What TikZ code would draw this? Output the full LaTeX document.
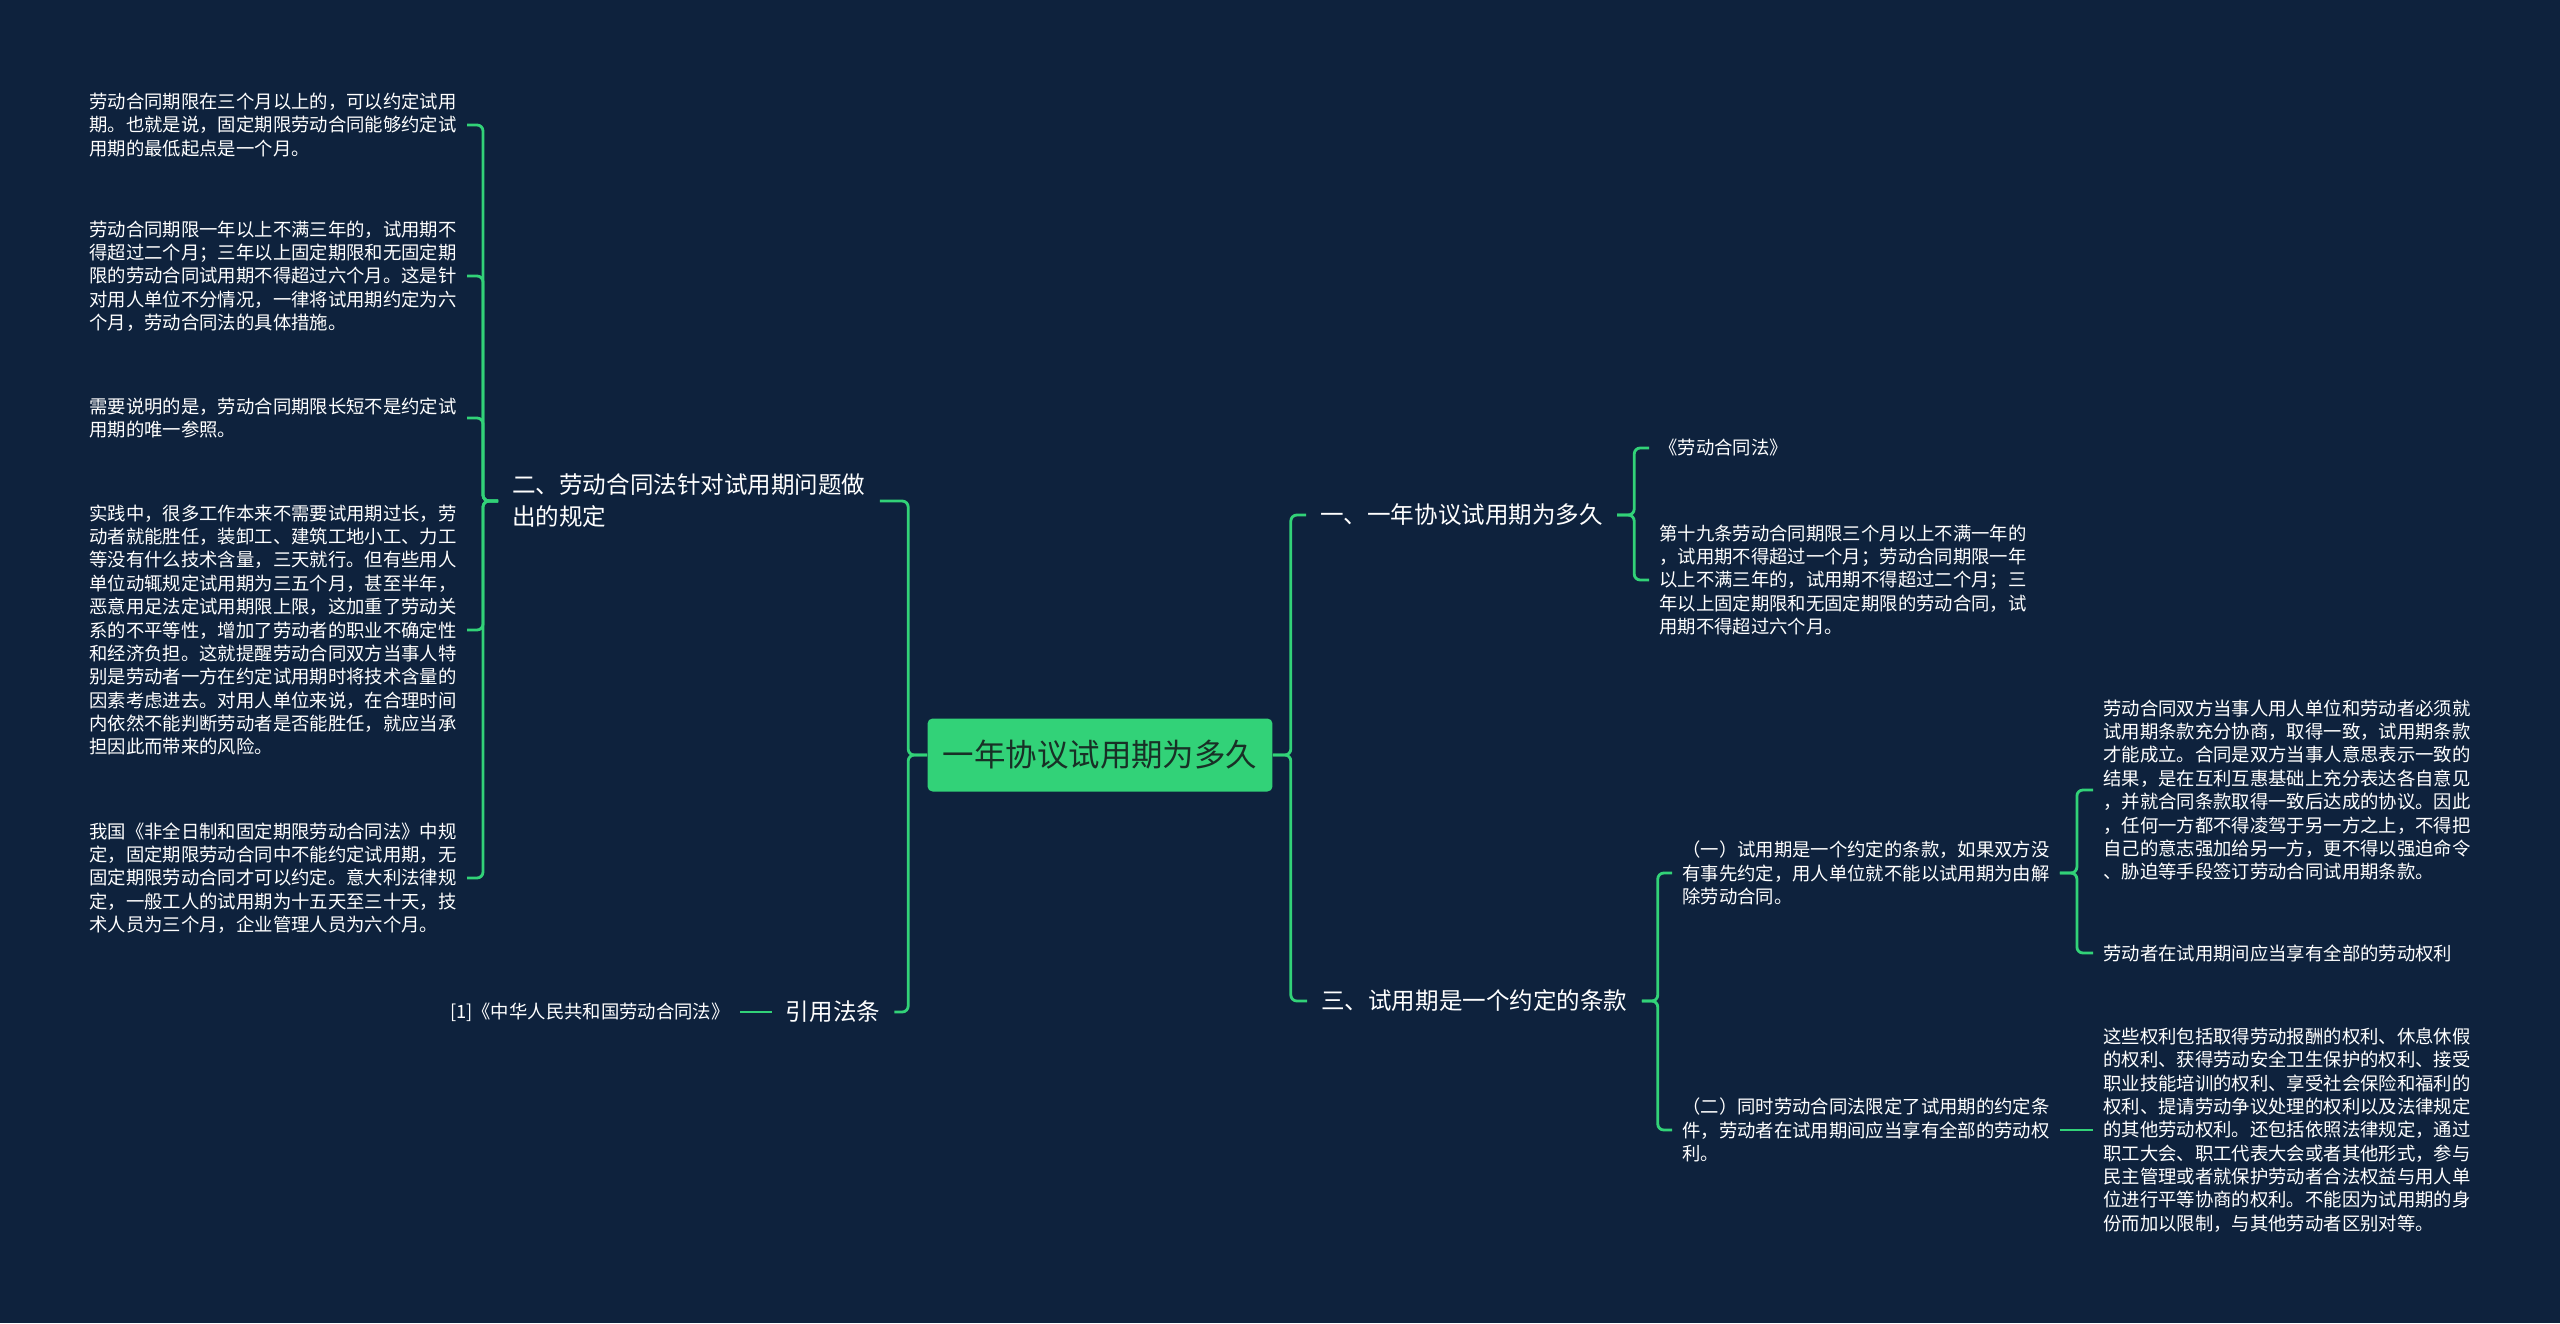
\documentclass[tikz,border=0pt]{standalone}
\usepackage{fontspec}
\setmainfont{Noto Sans CJK SC}
\usepackage{xcolor}
\definecolor{mapnavy}{RGB}{14, 34, 61}
\definecolor{mapgreen}{RGB}{50, 210, 120}
\definecolor{mapdark}{RGB}{24, 48, 38}

\begin{document}
\begin{tikzpicture}[
    x=0.02cm, y=-0.02cm,
    root/.style={rectangle, rounded corners=0.1cm, fill=mapgreen, text=mapdark, minimum width=6.9cm, minimum height=1.46cm, font=\fontsize{17.9}{22}\selectfont},
    branch/.style={text=white, align=left, inner xsep=0.28cm, font=\fontsize{13.4}{18.2}\selectfont},
    leaf/.style={text=white, align=left, inner xsep=0.2cm, font=\fontsize{10.45}{13.3}\selectfont},
    link/.style={draw=mapgreen, line width=1.6pt, rounded corners=0.12cm}
]

% === Fondo ===
\fill[mapnavy] (0,0) rectangle (2560,1323);
\useasboundingbox (0,0) rectangle (2560,1323);

% === Tema central ===
\node[root] (root) at (1100,755) {一年协议试用期为多久};

% === Ramas ===
\node[branch, anchor=west] (b2) at (498,501) {二、劳动合同法针对试用期问题做\\出的规定};
\node[branch] (cite) at (833,1012) {引用法条};
\node[branch, anchor=west] (b1) at (1306,515) {一、一年协议试用期为多久};
\node[branch, anchor=west] (b3) at (1307,1001) {三、试用期是一个约定的条款};

% === Hojas: lado izquierdo ===
\node[leaf, anchor=east] (l1) at (467,125) {劳动合同期限在三个月以上的，可以约定试用\\期。也就是说，固定期限劳动合同能够约定试\\用期的最低起点是一个月。};
\node[leaf, anchor=east] (l2) at (467,276) {劳动合同期限一年以上不满三年的，试用期不\\得超过二个月；三年以上固定期限和无固定期\\限的劳动合同试用期不得超过六个月。这是针\\对用人单位不分情况，一律将试用期约定为六\\个月，劳动合同法的具体措施。};
\node[leaf, anchor=east] (l3) at (467,418) {需要说明的是，劳动合同期限长短不是约定试\\用期的唯一参照。};
\node[leaf, anchor=east] (l4) at (467,630) {实践中，很多工作本来不需要试用期过长，劳\\动者就能胜任，装卸工、建筑工地小工、力工\\等没有什么技术含量，三天就行。但有些用人\\单位动辄规定试用期为三五个月，甚至半年，\\恶意用足法定试用期限上限，这加重了劳动关\\系的不平等性，增加了劳动者的职业不确定性\\和经济负担。这就提醒劳动合同双方当事人特\\别是劳动者一方在约定试用期时将技术含量的\\因素考虑进去。对用人单位来说，在合理时间\\内依然不能判断劳动者是否能胜任，就应当承\\担因此而带来的风险。};
\node[leaf, anchor=east] (l5) at (467,878) {我国《非全日制和固定期限劳动合同法》中规\\定，固定期限劳动合同中不能约定试用期，无\\固定期限劳动合同才可以约定。意大利法律规\\定，一般工人的试用期为十五天至三十天，技\\术人员为三个月，企业管理人员为六个月。};
\node[leaf, anchor=east] (ref) at (740,1012) {[1]《中华人民共和国劳动合同法》};

% === Hojas: lado derecho ===
\node[leaf, anchor=west] (r1) at (1649,448) {《劳动合同法》};
\node[leaf, anchor=west] (r2) at (1649,580) {第十九条劳动合同期限三个月以上不满一年的\\，试用期不得超过一个月；劳动合同期限一年\\以上不满三年的，试用期不得超过二个月；三\\年以上固定期限和无固定期限的劳动合同，试\\用期不得超过六个月。};
\node[leaf, anchor=west] (s1) at (1672,873) {（一）试用期是一个约定的条款，如果双方没\\有事先约定，用人单位就不能以试用期为由解\\除劳动合同。};
\node[leaf, anchor=west] (s2) at (1672,1130) {（二）同时劳动合同法限定了试用期的约定条\\件，劳动者在试用期间应当享有全部的劳动权\\利。};
\node[leaf, anchor=west] (g1) at (2093,790) {劳动合同双方当事人用人单位和劳动者必须就\\试用期条款充分协商，取得一致，试用期条款\\才能成立。合同是双方当事人意思表示一致的\\结果，是在互利互惠基础上充分表达各自意见\\，并就合同条款取得一致后达成的协议。因此\\，任何一方都不得凌驾于另一方之上，不得把\\自己的意志强加给另一方，更不得以强迫命令\\、胁迫等手段签订劳动合同试用期条款。};
\node[leaf, anchor=west] (g2) at (2093,953) {劳动者在试用期间应当享有全部的劳动权利};
\node[leaf, anchor=west] (g3) at (2093,1130) {这些权利包括取得劳动报酬的权利、休息休假\\的权利、获得劳动安全卫生保护的权利、接受\\职业技能培训的权利、享受社会保险和福利的\\权利、提请劳动争议处理的权利以及法律规定\\的其他劳动权利。还包括依照法律规定，通过\\职工大会、职工代表大会或者其他形式，参与\\民主管理或者就保护劳动者合法权益与用人单\\位进行平等协商的权利。不能因为试用期的身\\份而加以限制，与其他劳动者区别对等。};

% === Conectores ===
\draw[link] (root.west) -- ++(-19,0) |- (b2.east);
\draw[link] (root.west) -- ++(-19,0) |- (cite.east);
\draw[link] (root.east) -- ++(18,0) |- (b1.west);
\draw[link] (root.east) -- ++(18,0) |- (b3.west);

\foreach \c in {l1,l2,l3,l4,l5}
    \draw[link] (b2.west) -- ++(-15,0) |- (\c.east);
\draw[link] (cite.west) -- (ref.east);

\foreach \c in {r1,r2}
    \draw[link] (b1.east) -- ++(17,0) |- (\c.west);
\foreach \c in {s1,s2}
    \draw[link] (b3.east) -- ++(16,0) |- (\c.west);
\foreach \c in {g1,g2}
    \draw[link] (s1.east) -- ++(17,0) |- (\c.west);
\draw[link] (s2.east) -- (g3.west);

\end{tikzpicture}
\end{document}
